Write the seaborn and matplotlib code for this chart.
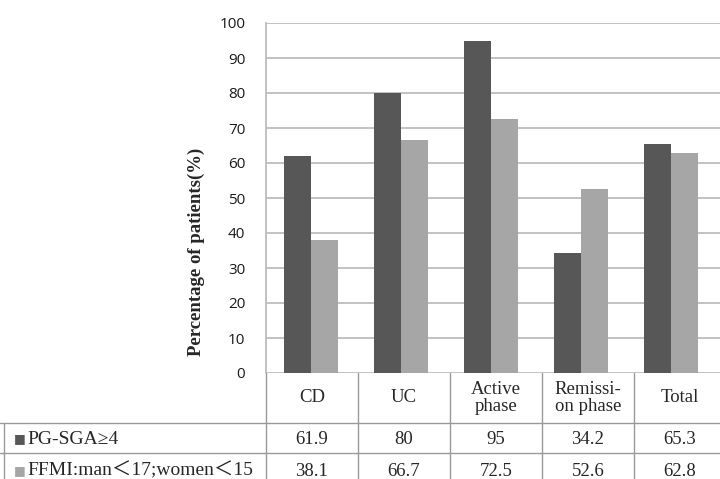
import numpy as np
import pandas as pd
import matplotlib
matplotlib.use("Agg")
import matplotlib.pyplot as plt
import seaborn as sns

categories = ["CD", "UC", "Active\nphase", "Remissi-\non phase", "Total"]
series = ["PG-SGA\u22654", "FFMI:man\uff1c17;women\uff1c15"]
pg_sga = [61.9, 80, 95, 34.2, 65.3]
ffmi = [38.1, 66.7, 72.5, 52.6, 62.8]
cell_text = [["61.9", "80", "95", "34.2", "65.3"],
             ["38.1", "66.7", "72.5", "52.6", "62.8"]]

colors = ["#575757", "#a6a6a6"]
grid_c = "#bdbdbd"

df = pd.DataFrame({
    "cat": categories * 2,
    "series": [series[0]] * 5 + [series[1]] * 5,
    "value": pg_sga + ffmi,
})

sns.set_style("white")
fig = plt.figure(figsize=(7.2, 4.79), dpi=100)
W, H = 720, 479
x0, x1 = 266, 720
cat_w = 90
y_top, y_zero = 23, 373
ax = fig.add_axes([x0 / W, 1 - y_zero / H, (x1 - x0) / W, (y_zero - y_top) / H])

sns.barplot(data=df, x="cat", y="value", hue="series", palette=colors,
            width=0.6, gap=0, ax=ax, legend=False, saturation=1, edgecolor="none")

ax.set_ylim(0, 100)
ax.set_xlim(-0.5, -0.5 + (x1 - x0) / cat_w)
ax.set_yticks(np.arange(0, 101, 10))
ax.yaxis.grid(True, color=grid_c, lw=1.3)
ax.set_axisbelow(True)
for s in ["top", "right", "bottom"]:
    ax.spines[s].set_visible(False)
ax.spines["left"].set_color(grid_c)
ax.spines["left"].set_linewidth(1.3)
ax.set_xticks([])
ax.set_xlabel("")
ax.set_ylabel("")
ax.tick_params(axis="y", length=0, pad=15, labelsize=11, labelcolor="#1a1a1a")
for lbl in ax.get_yticklabels():
    lbl.set_fontfamily("Open Sans")

fig.text(196 / W, 1 - 252 / H, "Percentage of patients(%)", rotation=90,
         ha="center", va="center", fontsize=13.5, fontweight="bold",
         family="Liberation Serif")

# data table below the chart
tab_w = 92
line_kw = dict(color="#999999", lw=1.0, transform=fig.transFigure)


def fx(px):
    return px / W


def fy(py):
    return 1 - py / H


fig.add_artist(plt.Line2D([fx(x0), fx(x0)], [fy(373), fy(479)], **line_kw))
for i in range(1, len(categories)):
    xx = x0 + i * tab_w
    fig.add_artist(plt.Line2D([fx(xx), fx(xx)], [fy(373), fy(479)], **line_kw))
for ry in [423, 453]:
    fig.add_artist(plt.Line2D([0, 1], [fy(ry), fy(ry)], **line_kw))
fig.add_artist(plt.Line2D([fx(4), fx(4)], [fy(423), fy(479)], **line_kw))

serif = ["Liberation Serif", "DejaVu Serif"]
row_y = [439, 471]
for i, cat in enumerate(categories):
    cx = x0 + (i + 0.5) * tab_w
    fig.text(fx(cx), fy(398), cat, ha="center", va="center", fontsize=13.5,
             family=serif, linespacing=1.0)
    for r in range(2):
        fig.text(fx(cx), fy(row_y[r]), cell_text[r][i], ha="center", va="center",
                 fontsize=13.5, family=serif)

for r in range(2):
    fig.text(fx(14), fy(row_y[r]), "\u25a0", ha="left", va="center", fontsize=9,
             color=colors[r], family=["DejaVu Sans"])
    fig.text(fx(27), fy(row_y[r]), series[r], ha="left", va="center", fontsize=14,
             family=["Liberation Serif", "Noto Sans CJK SC", "DejaVu Sans"])

fig.savefig("out.png", dpi=100)
